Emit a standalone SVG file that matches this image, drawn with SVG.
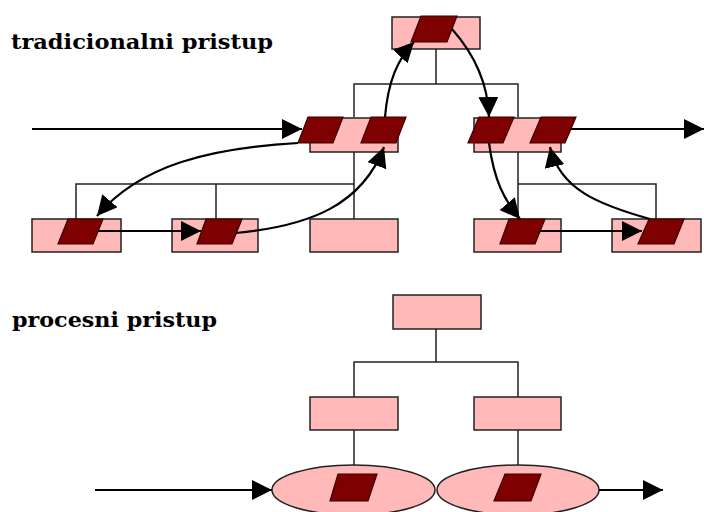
<svg xmlns="http://www.w3.org/2000/svg" width="704" height="512" viewBox="0 0 704 512">
<defs>
<style>
.box{fill:#ffb9b9;stroke:#222;stroke-width:1.5}
.doc{fill:#7f0000;stroke:#3a0000;stroke-width:1.2}
.tree{fill:none;stroke:#222;stroke-width:1.5}
.arr{fill:none;stroke:#000;stroke-width:2.2;marker-end:url(#ah)}
.title{font-family:"DejaVu Serif","Liberation Serif",serif;font-weight:bold;font-size:21px;fill:#000}
</style>
<marker id="ah" markerUnits="userSpaceOnUse" markerWidth="20" markerHeight="20" refX="20" refY="10" orient="auto" viewBox="0 0 20 20">
<path d="M0,0 L20,10 L0,20 Z" fill="#000"/>
</marker>
</defs>
<rect width="704" height="512" fill="#fff"/>

<text class="title" x="11" y="49" textLength="262" lengthAdjust="spacingAndGlyphs">tradicionalni pristup</text>
<text class="title" x="12" y="327" textLength="205" lengthAdjust="spacingAndGlyphs">procesni pristup</text>

<g id="tree-lines">
<path class="tree" d="M436,49 V84 M354,117 V84 H518 V117"/>
<path class="tree" d="M354,152 V219 M354,184 H76 V219 M216,184 V219"/>
<path class="tree" d="M518,152 V219 M518,184 H656 V219"/>
<path class="tree" d="M436,329 V362 M354,397 V362 H518 V397"/>
<path class="tree" d="M354,430 V465 M518,430 V465"/>
</g>

<g id="top">
<rect class="box" x="392" y="17" width="88" height="32"/>
<polygon class="doc" points="421,16 457,16 447,42 411,42"/>
</g>
<g id="mid-left">
<rect class="box" x="310" y="118" width="88" height="34"/>
<polygon class="doc" points="308,117 343,117 333,143 298,143"/>
<polygon class="doc" points="371,117 406,117 396,143 361,143"/>
</g>
<g id="mid-right">
<rect class="box" x="474" y="118" width="87" height="34"/>
<polygon class="doc" points="479,117 514,117 503,143 468,143"/>
<polygon class="doc" points="541,117 576,117 565,143 530,143"/>
</g>
<g id="bl1">
<rect class="box" x="32" y="219" width="89" height="33"/>
<polygon class="doc" points="68,219 103,219 93,244 58,244"/>
</g>
<g id="bl2">
<rect class="box" x="172" y="219" width="86" height="33"/>
<polygon class="doc" points="206,219 242,219 232,244 197,244"/>
</g>
<g id="bl3">
<rect class="box" x="310" y="219" width="88" height="33"/>
</g>
<g id="br1">
<rect class="box" x="474" y="219" width="87" height="33"/>
<polygon class="doc" points="509,219 545,219 535,244 500,244"/>
</g>
<g id="br2">
<rect class="box" x="612" y="219" width="89" height="33"/>
<polygon class="doc" points="649,219 684,219 674,244 638,244"/>
</g>

<g id="p-top">
<rect class="box" x="393" y="295" width="88" height="34"/>
</g>
<g id="p-mid-left">
<rect class="box" x="310" y="397" width="88" height="33"/>
</g>
<g id="p-mid-right">
<rect class="box" x="474" y="397" width="87" height="33"/>
</g>
<g id="p-proc-left">
<ellipse class="box" cx="353.5" cy="490" rx="81.5" ry="25"/>
<polygon class="doc" points="338,474 377,474 368,501 330,501"/>
</g>
<g id="p-proc-right">
<ellipse class="box" cx="518" cy="490" rx="81" ry="25"/>
<polygon class="doc" points="505,474 541,474 531,501 494,501"/>
</g>

<g id="connectors">
<path class="arr" d="M32,129 H302"/>
<path class="arr" d="M570,129 H704"/>
<path class="arr" d="M298,143 C210,148 140,165 97,216"/>
<path class="arr" d="M98,231 H201"/>
<path class="arr" d="M236,233 C310,226 362,205 384,147"/>
<path class="arr" d="M385,117 C388,82 397,60 414,42"/>
<path class="arr" d="M452,29 C475,55 488,85 489,117"/>
<path class="arr" d="M489,143 C494,180 504,200 520,219"/>
<path class="arr" d="M540,231 H642"/>
<path class="arr" d="M650,219 C600,205 560,190 550,147"/>
<path class="arr" d="M95,490 H272"/>
<path class="arr" d="M599,490 H663"/>
</g>
</svg>
